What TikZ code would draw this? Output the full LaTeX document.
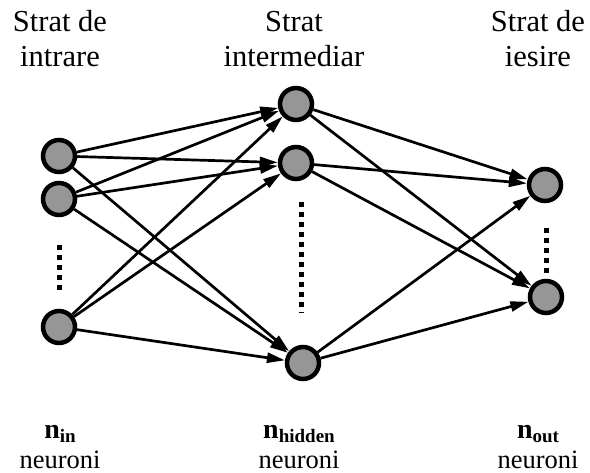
\documentclass[tikz,border=0pt]{standalone}
\usepackage{fontspec}
\setmainfont{Liberation Serif}
\usetikzlibrary{arrows.meta}
\definecolor{neurongray}{RGB}{150,150,150}
\tikzset{
  neuron/.style={circle, draw=black, line width=4.5pt, fill=neurongray,
                 minimum size=32pt, inner sep=0pt},
  link/.style={line width=2.7pt, -{Triangle[length=18pt,width=10pt]}},
  ellipsisdots/.style={line width=5pt, dash pattern=on 5pt off 5pt},
  layertitle/.style={align=center, inner sep=0pt, anchor=base,
                     font=\fontsize{30.5}{35}\selectfont},
  countlabel/.style={align=center, inner sep=0pt, anchor=base,
                     font=\fontsize{26.5}{30}\selectfont}
}
\newcommand{\cnt}[1]{{\fontsize{28}{30}\selectfont\bfseries n}\raisebox{-4pt}{\fontsize{19}{20}\selectfont\bfseries #1}}
\begin{document}
\begin{tikzpicture}[x=1pt, y=-1pt]
  \useasboundingbox (0,0) rectangle (590,473);

  % layer titles (base anchor sits on the last line)
  \node[layertitle] (tin)  at (60,67)  {Strat de\\intrare};
  \node[layertitle] (thid) at (294,67) {Strat\\intermediar};
  \node[layertitle] (tout) at (538,67) {Strat de\\iesire};

  % input layer
  \node[neuron] (i1) at (59,156) {};
  \node[neuron] (i2) at (59,199) {};
  \node[neuron] (i3) at (59,327) {};
  % hidden layer
  \node[neuron] (h1) at (296,104) {};
  \node[neuron] (h2) at (296,163) {};
  \node[neuron] (h3) at (303,363) {};
  % output layer
  \node[neuron] (o1) at (545,185) {};
  \node[neuron] (o2) at (546,297) {};

  % omitted neurons
  \coordinate (di1) at (59,245);  \coordinate (di2) at (59,293);
  \coordinate (dh1) at (301,202); \coordinate (dh2) at (301,313);
  \coordinate (do1) at (546,228); \coordinate (do2) at (546,274);
  \draw[ellipsisdots] (di1) -- (di2);
  \draw[ellipsisdots] (dh1) -- (dh2);
  \draw[ellipsisdots] (do1) -- (do2);

  % input -> hidden
  \foreach \a in {i1,i2,i3}
    \foreach \b in {h1,h2,h3}
      \draw[link] (\a) -- (\b);
  % hidden -> output
  \foreach \a in {h1,h2,h3}
    \foreach \b in {o1,o2}
      \draw[link] (\a) -- (\b);

  % neuron counts
  \node[countlabel] (cin)  at (60,468)  {\cnt{in}\\neuroni};
  \node[countlabel] (chid) at (299,468) {\cnt{hidden}\\neuroni};
  \node[countlabel] (cout) at (538,468) {\cnt{out}\\neuroni};
\end{tikzpicture}
\end{document}
